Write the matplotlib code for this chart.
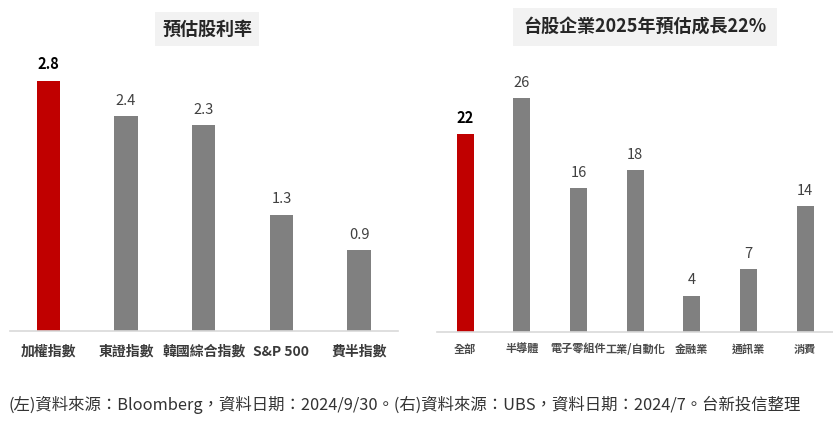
import matplotlib
matplotlib.use("Agg")
from matplotlib import pyplot as plt

plt.rcParams['font.family'] = ['Noto Sans CJK TC', 'DejaVu Sans']

# left chart: dividend yield
div_names = ['加權指數', '東證指數', '韓國綜合指數', 'S&P 500', '費半指數']
div_values = [2.8, 2.4, 2.3, 1.3, 0.9]

# right chart: 2025 earnings growth
grow_names = ['全部', '半導體', '電子零組件', '工業/自動化', '金融業', '通訊業', '消費']
grow_values = [22, 26, 16, 18, 4, 7, 14]

left_title = '預估股利率'
right_title = '台股企業2025年預估成長22%'
note = '(左)資料來源：Bloomberg，資料日期：2024/9/30。(右)資料來源：UBS，資料日期：2024/7。台新投信整理'

RED = '#C00000'
GRAY = '#808080'
W, H = 833, 426


def make_ax(fig, left, bottom, width, height):
    return fig.add_axes([left / W, bottom / H, width / W, height / H])


def style(ax):
    for s in ['top', 'right', 'left']:
        ax.spines[s].set_visible(False)
    ax.spines['bottom'].set_color('#d9d9d9')
    ax.spines['bottom'].set_linewidth(1.2)
    ax.set_yticks([])
    ax.tick_params(axis='x', length=0)


fig = plt.figure(figsize=(W / 100, H / 100), dpi=100)

# left
ax1 = make_ax(fig, 9.5, 95.3, 388.5, 3.2 * 89.3)
colors = [RED] + [GRAY] * (len(div_values) - 1)
ax1.bar(range(len(div_values)), div_values, width=0.30, color=colors)
ax1.set_xlim(-0.5, len(div_values) - 0.5)
ax1.set_ylim(0, 3.2)
style(ax1)
ax1.set_xticks(range(len(div_names)))
ax1.set_xticklabels(div_names, fontsize=10, color='#3a3a3a', fontweight='bold')
ax1.tick_params(axis='x', pad=10)
for i, v in enumerate(div_values):
    ax1.annotate(f'{v:.1f}', (i, v), xytext=(0, 6), textcoords='offset points',
                 ha='center', va='bottom', fontsize=10.5,
                 color='black' if i == 0 else '#404040',
                 fontweight='bold' if i == 0 else 'normal')

# right
ax2 = make_ax(fig, 436.7, 94.3, 396.7, 30 * 8.98)
colors = [RED] + [GRAY] * (len(grow_values) - 1)
ax2.bar(range(len(grow_values)), grow_values, width=0.30, color=colors)
ax2.set_xlim(-0.5, len(grow_values) - 0.5)
ax2.set_ylim(0, 30)
style(ax2)
ax2.set_xticks(range(len(grow_names)))
ax2.set_xticklabels(grow_names, fontsize=8, color='#4a4a4a', fontweight='bold')
ax2.tick_params(axis='x', pad=8)
for i, v in enumerate(grow_values):
    ax2.annotate(f'{v}', (i, v), xytext=(0, 6), textcoords='offset points',
                 ha='center', va='bottom', fontsize=10.5,
                 color='black' if i == 0 else '#404040',
                 fontweight='bold' if i == 0 else 'normal')

# titles with light boxes
fig.text(207 / W, 1 - 29 / H, left_title, ha='center', va='center',
         fontsize=13, fontweight='bold', color='#262626',
         bbox=dict(boxstyle='square,pad=0.4', facecolor='#f2f2f2', edgecolor='none'))
fig.text(645 / W, 1 - 27 / H, right_title, ha='center', va='center',
         fontsize=13, fontweight='bold', color='#262626',
         bbox=dict(boxstyle='square,pad=0.55', facecolor='#f2f2f2', edgecolor='none'))

fig.text(8 / W, 1 - 405 / H, note, ha='left', va='center',
         fontsize=11.8, color='#333333')

fig.savefig('out.png', dpi=100)
